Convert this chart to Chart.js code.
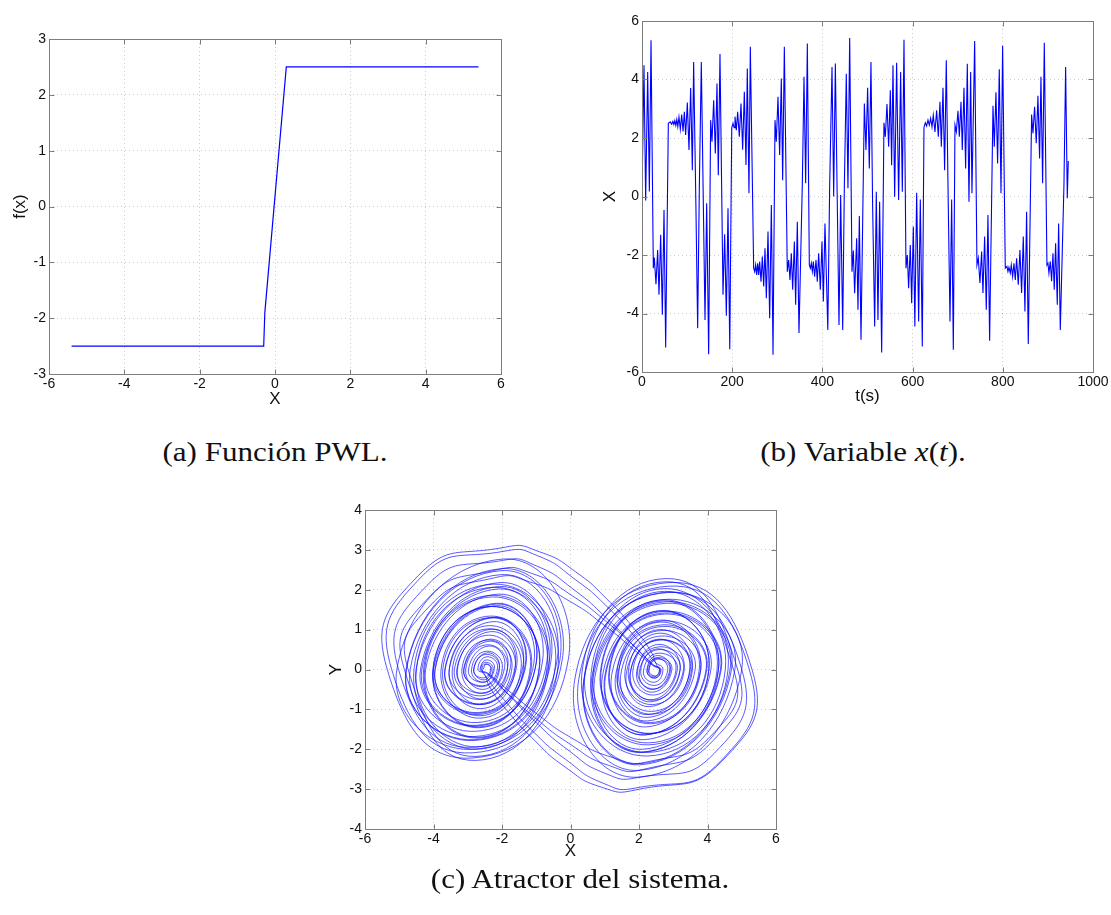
<!DOCTYPE html>
<html>
<head>
<meta charset="utf-8">
<script src="https://cdn.jsdelivr.net/npm/chart.js@4.4.1/dist/chart.umd.min.js"></script>
<style>
  html, body { margin: 0; background: #fff; }
  #page { position: relative; width: 1111px; height: 915px; overflow: hidden; background: #fff; }
  canvas { position: absolute; }
  .cap { position: absolute; font-family: "Liberation Serif", serif; font-size: 27px; color: #111;
         text-align: center; white-space: nowrap; line-height: 30px; transform: scaleX(1.15); }
</style>
</head>
<body>
<div id="page">
  <canvas id="pwl"  width="520" height="420" style="left:0px;top:0px"></canvas>
  <canvas id="xt"   width="521" height="420" style="left:590px;top:0px"></canvas>
  <canvas id="attr" width="490" height="375" style="left:310px;top:490px"></canvas>
  <div class="cap" style="left:75px;width:400px;top:437px">(a) Función PWL.</div>
  <div class="cap" style="left:663px;width:400px;top:437px">(b) Variable <i>x</i>(<i>t</i>).</div>
  <div class="cap" style="left:380px;width:400px;top:864px">(c) Atractor del sistema.</div>
</div>
<script>
// ---- (a) PWL function
const pwlX = [-5.4, -0.3, -0.27, 0.3, 5.4];
const pwlY = [-2.5, -2.5, -1.9, 2.5, 2.5];

// ---- (b) x(t), extrema
const timeS = [0,4.4,8.1,12.6,16.3,20.0,25.1,27.3,31.0,34.7,37.7,41.4,45.1,48.8,52.5,58.4,
  62.8,65.8,68.5,70.6,72.8,75.0,77.2,79.4,82.0,85.0,88.0,91.0,93.9,96.8,100.5,104.2,107.9,111.6,114.5,
  119.5,123.4,127.1,131.5,139.7,143.4,147.8,
  152.2,155.2,158.9,162.6,166.3,169.2,172.9,
  179.6,183.3,187.0,190.7,194.6,
  199.0,201.8,204.3,206.2,209.2,212.1,215.8,219.5,223.2,226.9,230.6,233.5,237.2,240.2,
  247.6,249.8,252.0,254.2,256.5,258.7,260.9,263.9,266.8,269.8,272.7,275.7,279.4,283.1,286.8,290.5,
  294.9,297.8,301.5,305.2,308.9,311.9,315.6,
  322.2,325.2,328.1,331.1,334.1,337.8,340.7,344.4,348.1,
  355.5,359.2,362.9,366.6,
  371.0,373.2,375.4,377.7,379.9,382.8,385.8,388.7,391.7,395.4,399.1,402.1,405.7,412.0,
  416.1,421.3,425.0,428.7,436.8,440.5,445.0,448.6,453.0,456.7,460.5,
  465.6,468.6,471.5,476.0,478.9,481.9,485.6,
  493.0,496.6,500.3,504.0,507.7,
  511.4,515.9,519.5,523.2,526.9,531.4,
  536.5,539.5,543.2,546.9,550.6,553.5,556.5,560.2,564.6,569.0,573.5,577.2,580.9,
  585.3,588.3,591.2,594.9,597.9,601.6,605.0,609.0,613.4,617.1,621.5,
  625.2,628.2,631.1,634.1,637.0,640.0,643.0,645.9,649.6,653.3,657.0,660.7,663.7,667.4,671.0,674.7,
  679.2,682.9,686.6,690.3,
  694.0,697.0,700.6,703.6,707.3,710.2,713.9,717.6,721.3,725.0,728.7,731.6,737.6,
  742.7,745.7,749.3,753.0,756.0,759.7,763.4,767.1,770.8,
  778.2,781.1,784.8,788.5,792.2,796.0,799.6,
  805.5,809.2,811.4,813.6,816.6,818.8,821.8,824.7,827.7,830.6,834.3,838.0,841.7,845.4,849.1,852.8,856.5,
  863.9,866.9,870.5,874.2,877.9,881.6,884.6,888.3,892.0,
  897.9,900.1,902.3,905.3,908.2,911.2,914.1,917.1,920.8,923.8,927.5,
  935.6,939.3,943.0,945.2];
const xOfT = [0.1,4.49,-0.14,4.26,0.17,5.34,-2.45,-2.09,-3.0,-1.83,-3.36,-1.31,-4.04,-0.46,-5.16,2.50,
  2.55,2.47,2.57,2.46,2.59,2.43,2.63,2.39,2.72,2.30,2.80,2.22,2.90,2.10,3.21,1.59,3.71,0.90,4.60,
  -0.29,-4.50,0.28,4.60,-4.22,-0.23,-5.39,
  2.61,1.87,3.29,1.47,3.86,0.73,4.87,
  -3.36,-1.29,-4.08,-0.40,-5.22,
  2.35,2.50,2.35,2.73,2.27,2.90,2.04,3.18,1.60,3.58,1.08,4.38,0.11,5.12,
  -2.45,-2.57,-2.34,-2.68,-2.28,-2.68,-2.22,-2.91,-2.05,-3.08,-1.77,-3.48,-1.20,-4.16,-0.29,-5.41,
  2.61,1.87,3.41,1.42,4.03,0.56,5.12,
  -2.57,-2.17,-2.85,-1.94,-3.19,-1.54,-3.70,-0.86,-4.67,
  0.45,4.09,0.45,5.23,
  -2.34,-2.45,-2.28,-2.56,-2.22,-2.74,-2.17,-2.91,-1.94,-3.19,-1.54,-3.59,-0.92,-4.56,
  0.34,4.43,0.0,4.55,-4.39,0.05,-4.56,0.28,4.20,0.28,5.42,
  -2.57,-1.85,-3.31,-1.43,-3.87,-0.67,-4.90,
  3.18,1.59,3.72,0.96,4.60,
  -0.35,-4.44,0.16,-4.22,-0.18,-5.33,
  2.52,2.04,3.16,1.70,3.63,1.07,4.49,-0.01,4.57,-0.12,4.26,0.16,5.36,
  -2.45,-2.00,-3.14,-1.66,-3.65,-1.03,-4.44,0.13,-4.27,-0.10,-5.13,
  2.36,2.52,2.41,2.61,2.44,2.67,2.38,2.78,2.21,2.95,2.04,3.24,1.70,3.72,0.90,4.66,
  -0.40,-4.27,-0.10,-5.24,
  2.44,2.21,2.93,2.04,3.24,1.59,3.72,0.96,4.54,-0.18,4.26,0.11,5.32,
  -2.34,-2.11,-2.96,-1.88,-3.30,-1.37,-3.87,-0.63,-4.93,
  3.10,1.70,3.56,1.13,4.35,0.11,5.15,
  -2.45,-2.39,-2.56,-2.42,-2.62,-2.34,-2.74,-2.28,-2.85,-2.11,-3.02,-1.83,-3.30,-1.37,-3.93,-0.52,-5.04,
  2.80,2.16,3.07,1.82,3.44,1.30,4.09,0.45,5.26,
  -2.34,-2.28,-2.62,-2.22,-2.90,-1.94,-3.19,-1.60,-3.70,-0.92,-4.56,
  0.39,4.43,-0.06,1.21];

// ---- (c) attractor: loops read as top/right/bottom/left points, in order of travel
const leftSpiral1 = [[-2.55,0],[-2.47,0.13],[-2.33,0.02],[-2.54,-0.21],
  [-2.83,0],[-2.42,0.42],[-2.08,0.05],[-2.58,-0.43],
  [-3.11,0],[-2.36,0.71],[-1.83,0.08],[-2.61,-0.66],
  [-3.39,0],[-2.30,1.01],[-1.57,0.10],[-2.65,-0.88],
  [-3.67,0],[-2.24,1.30],[-1.32,0.13],[-2.69,-1.10],
  [-3.95,0],[-2.18,1.60],[-1.07,0.16],[-2.73,-1.33],
  [-4.23,0],[-2.12,1.89],[-0.82,0.19],[-2.77,-1.55],
  [-4.51,0],[-2.06,2.18],[-0.57,0.22],[-2.81,-1.78],
  [-4.79,0],[-2.00,2.48],[-0.31,0.24],[-2.85,-2.00],
  [-5.07,0],[-1.95,2.77],[-0.06,0.27],[-2.89,-2.22],
  [-5.35,0],[-4.45,2.35],[-1.89,3.07]];
const escape1 = [[-0.9,2.95],[0.15,2.45],[1.14,1.7],[1.9,0.98],[2.35,0.45],[2.52,0.1]];
const rightSpiral1 = [[2.6,0],[2.46,-0.18],[2.28,-0.03],[2.55,0.26],
  [2.9,0],[2.40,-0.50],[2.01,-0.06],[2.59,0.50],
  [3.2,0],[2.34,-0.81],[1.74,-0.09],[2.63,0.74],
  [3.5,0],[2.27,-1.13],[1.47,-0.12],[2.67,0.98],
  [3.8,0],[2.21,-1.44],[1.20,-0.15],[2.71,1.22],
  [4.1,0],[2.15,-1.76],[0.93,-0.18],[2.76,1.46],
  [4.4,0],[2.09,-2.07],[0.66,-0.21],[2.80,1.70],
  [4.7,0],[2.02,-2.39],[0.39,-0.24],[2.84,1.94],
  [5.0,0],[1.96,-2.70],[0.12,-0.27],[2.88,2.18],
  [5.3,0],[4.42,-2.3],[1.90,-3.02]];
const escape2 = [[0.9,-2.95],[-0.15,-2.45],[-1.14,-1.7],[-1.9,-0.98],[-2.35,-0.45],[-2.52,-0.1]];
const leftSpiral2 = [[-2.64,0],[-2.45,0.24],[-2.22,0.03],[-2.56,-0.32],
  [-2.98,0],[-2.38,0.59],[-1.92,0.07],[-2.60,-0.59],
  [-3.32,0],[-2.31,0.95],[-1.61,0.10],[-2.65,-0.86],
  [-3.66,0],[-2.24,1.31],[-1.30,0.13],[-2.70,-1.13],
  [-4.00,0],[-2.17,1.66],[-1.00,0.17],[-2.75,-1.40],
  [-4.34,0],[-2.10,2.02],[-0.69,0.20],[-2.79,-1.68],
  [-4.68,0],[-2.02,2.38],[-0.39,0.24],[-2.84,-1.95],
  [-5.02,0],[-4.2,2.1],[-1.95,2.74]];
const escape3 = [[-1.0,2.6],[0.1,2.0],[1.1,1.25],[1.9,0.55],[2.4,0.12]];
const rightSpiral2 = [[2.62,0],[2.46,-0.22],[2.24,-0.03],[2.55,0.30],
  [2.96,0],[2.39,-0.57],[1.93,-0.06],[2.60,0.57],
  [3.30,0],[2.31,-0.93],[1.63,-0.10],[2.65,0.84],
  [3.64,0],[2.24,-1.29],[1.32,-0.13],[2.70,1.12],
  [3.98,0],[2.17,-1.64],[1.02,-0.17],[2.74,1.39],
  [4.32,0],[2.10,-2.00],[0.71,-0.20],[2.79,1.66],
  [4.66,0],[2.03,-2.36],[0.40,-0.23],[2.84,1.93],
  [5.00,0],[4.2,-2.1],[1.96,-2.71]];
const escape4 = [[1.0,-2.6],[-0.1,-2.0],[-1.1,-1.25],[-1.9,-0.55],[-2.4,-0.12]];
const leftSpiral3 = [[-2.70,0],[-2.44,0.32],[-2.13,0.04],[-2.57,-0.41],
  [-3.12,0],[-2.35,0.76],[-1.75,0.08],[-2.63,-0.75],
  [-3.54,0],[-2.26,1.20],[-1.38,0.13],[-2.69,-1.08],
  [-3.96,0],[-2.17,1.64],[-1.00,0.17],[-2.75,-1.42],
  [-4.38,0],[-2.08,2.08],[-0.62,0.21],[-2.81,-1.76],
  [-4.80,0],[-1.99,2.53],[-0.24,0.25],[-2.87,-2.09],
  [-5.22,0],[-4.38,2.3],[-1.91,2.97]];
const escape5 = [[-0.95,2.85],[0.15,2.25],[1.1,1.55],[1.95,0.75],[2.45,0.2]];
const rightSpiral3 = [[2.70,0],[2.44,-0.32],[2.13,-0.04],[2.57,0.41],
  [3.12,0],[2.35,-0.76],[1.75,-0.08],[2.63,0.75],
  [3.54,0],[2.26,-1.20],[1.38,-0.13],[2.69,1.08],
  [3.96,0],[2.17,-1.64],[1.00,-0.17],[2.75,1.42],
  [4.38,0],[2.08,-2.08],[0.62,-0.21],[2.81,1.76],
  [4.80,0],[1.99,-2.53],[0.24,-0.25],[2.87,2.09],
  [5.22,0],[4.38,-2.3],[1.91,-2.97]];
const escape6 = [[0.95,-2.85],[-0.15,-2.25],[-1.1,-1.55],[-1.95,-0.75],[-2.45,-0.2]];
const leftSpiral4 = [[-2.58,0],[-2.48,0.14],[-2.31,0.01],[-2.53,-0.26],
  [-2.82,0],[-2.45,0.38],[-2.07,0.02],[-2.56,-0.50],
  [-3.06,0],[-2.43,0.62],[-1.84,0.03],[-2.59,-0.74],
  [-3.30,0],[-2.40,0.86],[-1.61,0.05],[-2.62,-0.98],
  [-3.54,0],[-2.37,1.10],[-1.37,0.06],[-2.65,-1.22],
  [-3.78,0],[-2.34,1.34],[-1.14,0.07],[-2.68,-1.46],
  [-4.02,0],[-2.31,1.58],[-0.91,0.08],[-2.70,-1.70],
  [-4.26,0],[-2.28,1.82],[-0.68,0.09],[-2.73,-1.94],
  [-4.50,0],[-2.25,2.06],[-0.44,0.11],[-2.76,-2.18],
  [-4.74,0],[-4.1,1.6],[-2.22,2.30]];
const escape7 = [[-1.2,2.2],[0.0,1.7],[1.0,1.1],[1.85,0.5],[2.4,0.1]];
const rightSpiral4 = [[2.60,0],[2.48,-0.16],[2.29,-0.01],[2.53,0.28],
  [2.84,0],[2.45,-0.40],[2.05,-0.02],[2.56,0.52],
  [3.08,0],[2.42,-0.64],[1.82,-0.04],[2.59,0.76],
  [3.32,0],[2.39,-0.88],[1.59,-0.05],[2.62,1.00],
  [3.56,0],[2.37,-1.12],[1.36,-0.06],[2.65,1.24],
  [3.80,0],[2.34,-1.36],[1.12,-0.07],[2.68,1.48],
  [4.04,0],[2.31,-1.60],[0.89,-0.08],[2.71,1.72],
  [4.28,0],[2.28,-1.84],[0.66,-0.10],[2.74,1.96],
  [4.52,0],[2.25,-2.08],[0.42,-0.11],[2.76,2.20],
  [4.76,0],[4.15,-1.62],[2.22,-2.32]];
const escape8 = [[1.2,-2.2],[0.0,-1.7],[-1.0,-1.1],[-1.85,-0.5],[-2.4,-0.1]];
const leftSpiral5 = [[-2.61,0],[-2.48,0.18],[-2.26,0.01],[-2.54,-0.32],
  [-2.89,0],[-2.44,0.46],[-1.99,0.03],[-2.57,-0.60],
  [-3.17,0],[-2.41,0.74],[-1.71,0.04],[-2.61,-0.88],
  [-3.45,0],[-2.38,1.02],[-1.44,0.05],[-2.64,-1.16],
  [-3.73,0],[-2.34,1.30],[-1.17,0.07],[-2.67,-1.44],
  [-4.01,0],[-2.31,1.58],[-0.90,0.08],[-2.71,-1.72],
  [-4.29,0],[-2.28,1.86],[-0.63,0.10],[-2.74,-2.00],
  [-4.57,0],[-2.24,2.14],[-0.36,0.11],[-2.77,-2.28],
  [-4.85,0],[-4.2,1.75],[-2.15,2.50]];
const escape9 = [[-1.1,2.4],[0.05,1.85],[1.05,1.2],[1.9,0.55],[2.42,0.12]];
const rightSpiral5 = [[2.64,0],[2.47,-0.21],[2.23,-0.01],[2.54,0.35],
  [2.92,0],[2.44,-0.49],[1.96,-0.03],[2.58,0.63],
  [3.20,0],[2.41,-0.77],[1.69,-0.04],[2.61,0.91],
  [3.48,0],[2.37,-1.05],[1.41,-0.06],[2.64,1.19],
  [3.76,0],[2.34,-1.33],[1.14,-0.07],[2.68,1.47],
  [4.04,0],[2.31,-1.61],[0.87,-0.08],[2.71,1.75],
  [4.32,0],[2.27,-1.89],[0.60,-0.10],[2.74,2.03],
  [4.60,0],[2.24,-2.17],[0.33,-0.11],[2.78,2.28],
  [4.88,0],[4.2,-1.75],[2.15,-2.50]];
const escape10 = [[1.1,-2.4],[-0.05,-1.85],[-1.05,-1.2],[-1.9,-0.55],[-2.42,-0.12]];

const FONT = '"Liberation Sans", Arial, Helvetica, sans-serif';
const BLUE = '#0000ff';

// MATLAB-like box with inward tick marks on all four sides
const boxPlugin = {
  id: 'box',
  afterDraw(chart) {
    const { ctx, chartArea: a, scales: { x, y } } = chart;
    const L = Math.round(a.left) + 0.5, R = Math.round(a.right) + 0.5;
    const T = Math.round(a.top) + 0.5, B = Math.round(a.bottom) + 0.5;
    ctx.save();
    ctx.strokeStyle = '#7d7d7d';
    ctx.lineWidth = 1;
    ctx.beginPath();
    x.ticks.forEach(t => {
      const px = Math.round(x.getPixelForValue(t.value)) + 0.5;
      ctx.moveTo(px, B); ctx.lineTo(px, B - 5);
      ctx.moveTo(px, T); ctx.lineTo(px, T + 5);
    });
    y.ticks.forEach(t => {
      const py = Math.round(y.getPixelForValue(t.value)) + 0.5;
      ctx.moveTo(L, py); ctx.lineTo(L + 5, py);
      ctx.moveTo(R, py); ctx.lineTo(R - 5, py);
    });
    ctx.stroke();
    ctx.strokeRect(L, T, R - L, B - T);
    ctx.restore();
  },
};

const grid   = { color: 'rgba(0,0,0,0.2)', lineWidth: 1, drawTicks: false };
const border = { display: false, dash: [1, 3] };

function xAxis(min, max, step, text, titlePad, height) {
  return {
    type: 'linear', position: 'bottom', min, max,
    grid, border,
    ticks: { stepSize: step, color: '#111', font: { family: FONT, size: 14 }, padding: 2,
             maxRotation: 0, autoSkip: false, callback: v => String(v) },
    title: { display: true, text, color: '#111', font: { family: FONT, size: 17 },
             padding: { top: 0, bottom: titlePad } },
    afterFit: s => { s.height = height; },
  };
}

function yAxis(min, max, step, text, titlePad, width) {
  return {
    type: 'linear', position: 'left', min, max,
    grid, border,
    ticks: { stepSize: step, color: '#111', font: { family: FONT, size: 14 }, padding: 3,
             autoSkip: false, callback: v => String(v) },
    title: { display: true, text, color: '#111', font: { family: FONT, size: 17 },
             padding: { top: titlePad, bottom: 0 } },
    afterFit: s => { s.width = width; },
  };
}

const baseOpts = (padding, scales) => ({
  responsive: false,
  animation: false,
  layout: { padding },
  plugins: { legend: { display: false }, tooltip: { enabled: false } },
  scales,
});

new Chart(document.getElementById('pwl'), {
  type: 'scatter',
  data: { datasets: [{
    data: pwlX.map((v, i) => ({ x: v, y: pwlY[i] })),
    showLine: true, borderColor: BLUE, borderWidth: 1.2, pointRadius: 0, tension: 0,
  }] },
  options: baseOpts({ top: 39, right: 19, left: 0, bottom: 0 }, {
    x: xAxis(-6, 6, 2, 'X', 10, 46),
    y: yAxis(-3, 3, 1, 'f(x)', 10, 49),
  }),
  plugins: [boxPlugin],
});

new Chart(document.getElementById('xt'), {
  type: 'scatter',
  data: { datasets: [{
    data: timeS.map((t, i) => ({ x: t, y: xOfT[i] })),
    showLine: true, borderColor: BLUE, borderWidth: 1.1, pointRadius: 0, tension: 0,
  }] },
  options: baseOpts({ top: 21, right: 18, left: 0, bottom: 0 }, {
    x: xAxis(0, 1000, 200, 't(s)', 13, 48),
    y: yAxis(-6, 6, 2, 'X', 10, 52),
  }),
  plugins: [boxPlugin],
});

const trajectory = [].concat(
  leftSpiral1, escape1, rightSpiral1, escape2,
  leftSpiral2, escape3, rightSpiral2, escape4,
  leftSpiral3, escape5, rightSpiral3, escape6,
  leftSpiral4, escape7, rightSpiral4, escape8,
  leftSpiral5, escape9, rightSpiral5, escape10
);

new Chart(document.getElementById('attr'), {
  type: 'scatter',
  data: { datasets: [{
    data: trajectory.map(p => ({ x: p[0], y: p[1] })),
    showLine: true, borderColor: 'rgba(10,10,255,0.75)', borderWidth: 0.9, pointRadius: 0, tension: 0.55,
  }] },
  options: baseOpts({ top: 20, right: 24, left: 0, bottom: 0 }, {
    x: xAxis(-6, 6, 2, 'X', 3, 36),
    y: yAxis(-4, 4, 1, 'Y', 16, 55),
  }),
  plugins: [boxPlugin],
});
</script>
</body>
</html>
